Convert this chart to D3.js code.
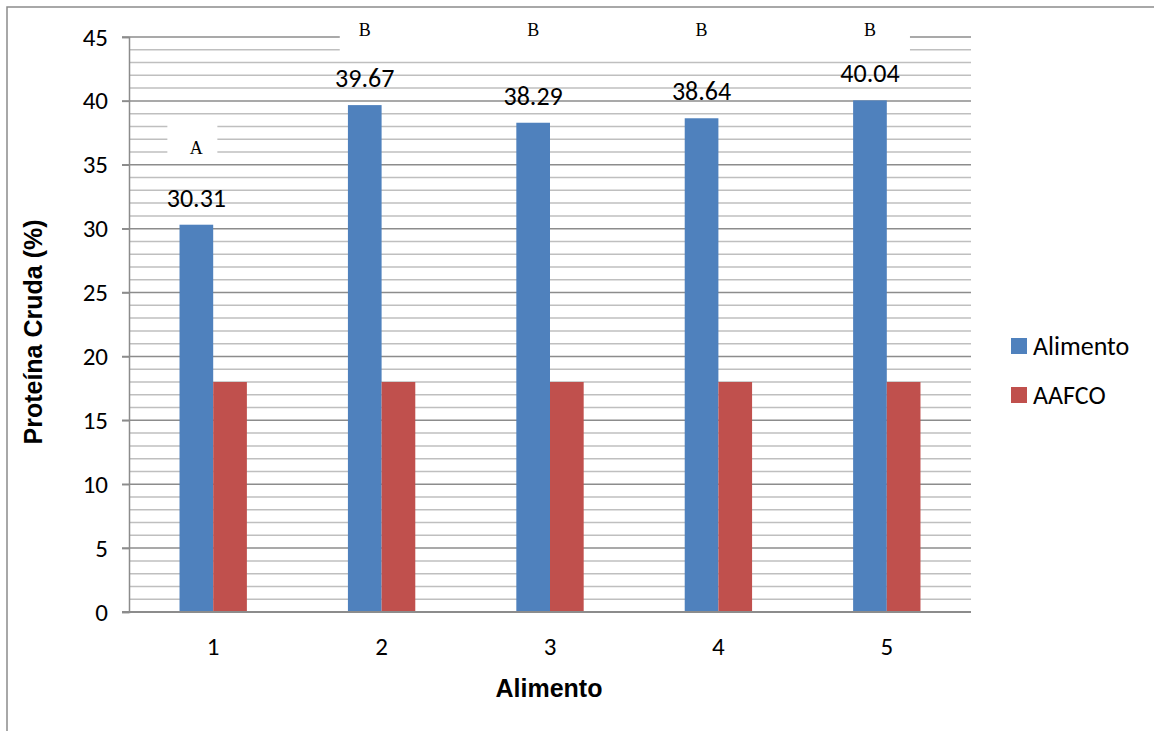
<!DOCTYPE html>
<html><head><meta charset="utf-8">
<script src="https://cdn.jsdelivr.net/npm/d3@7"></script>
<style>body{margin:0;background:#fff;} svg{display:block;}</style>
</head><body>
<svg id="c" width="1154" height="731"></svg>
<script>
const categories = ["1","2","3","4","5"];
const alimento = [30.31, 39.67, 38.29, 38.64, 40.04];
const aafco = [18, 18, 18, 18, 18];
const letters = ["A","B","B","B","B"];
const seriesNames = ["Alimento","AAFCO"];
const yTicks = [0,5,10,15,20,25,30,35,40,45];
const colors = ["#4F81BD","#C0504D"];

const svg = d3.select("#c");
const L=129, R=971, T=37, B=612;
const x = d3.scaleBand().domain(categories).range([L,R]).paddingInner(0).paddingOuter(0);
const y = d3.scaleLinear().domain([0,45]).range([B,T]);
const bw = x.bandwidth()/2.5/2;
const numFont = "Carlito, Lato, 'Liberation Sans', sans-serif";

// frame
svg.append("path").attr("d",`M7,731V7H1154`).attr("fill","none").attr("stroke","#8c8c8c").attr("stroke-width",1.5);

// minor gridlines
const minor = d3.range(1,46).filter(v=>v%5!==0);
svg.append("g").selectAll("line").data(minor).join("line")
  .attr("x1",L).attr("x2",R).attr("y1",d=>y(d)).attr("y2",d=>y(d))
  .attr("stroke","#bfbfbf").attr("stroke-width",1.5);
// major gridlines
svg.append("g").selectAll("line").data(yTicks.filter(v=>v>0)).join("line")
  .attr("x1",L-7).attr("x2",R).attr("y1",d=>y(d)).attr("y2",d=>y(d))
  .attr("stroke","#8c8c8c").attr("stroke-width",1.5);

// y axis
const yAxis = d3.axisLeft(y).tickValues(yTicks).tickSize(7).tickPadding(14);
const yg = svg.append("g").attr("transform",`translate(${L},0)`).call(yAxis);
yg.select(".domain").attr("stroke","#8c8c8c").attr("stroke-width",1.5);
yg.selectAll(".tick line").attr("stroke","#8c8c8c").attr("stroke-width",1.5);
yg.selectAll("text").attr("font-family",numFont).attr("font-size",25).attr("fill","#000");

// bars
const cx = (c,i) => x(c) + x.bandwidth()/2 + (i===0 ? -bw : 0);
svg.append("g").selectAll("rect").data(categories).join("rect")
  .attr("x",(c)=>cx(c,0)).attr("width",bw)
  .attr("y",(c,i)=>y(alimento[i])).attr("height",(c,i)=>y(0)-y(alimento[i]))
  .attr("fill",colors[0]);
svg.append("g").selectAll("rect").data(categories).join("rect")
  .attr("x",(c)=>cx(c,1)).attr("width",bw)
  .attr("y",(c,i)=>y(aafco[i])).attr("height",(c,i)=>y(0)-y(aafco[i]))
  .attr("fill",colors[1]);

// x axis
const xAxis = d3.axisBottom(x).tickSize(0).tickPadding(25);
const xg = svg.append("g").attr("transform",`translate(0,${B})`).call(xAxis);
xg.select(".domain").remove();
svg.append("line").attr("x1",L-7).attr("x2",R).attr("y1",B).attr("y2",B).attr("stroke","#8c8c8c").attr("stroke-width",2);
xg.selectAll("text").attr("font-family",numFont).attr("font-size",25).attr("fill","#000");

// value labels
svg.append("g").selectAll("text").data(categories).join("text")
  .attr("x",c=>cx(c,0)+bw/2).attr("y",(c,i)=>y(alimento[i])-18)
  .attr("text-anchor","middle").attr("font-family",numFont).attr("font-size",26)
  .text((c,i)=>alimento[i].toFixed(2));

// letter annotation boxes (white)
const bx = c => cx(c,0)+bw/2;
svg.append("rect").attr("x",bx("2")-25).attr("y",10).attr("width",bx("5")-bx("2")+65).attr("height",47).attr("fill","#fff");
svg.append("rect").attr("x",bx("1")-29).attr("y",y(36.3)-25).attr("width",50).attr("height",40).attr("fill","#fff");
svg.append("g").selectAll("text").data(categories).join("text")
  .attr("x",c=>bx(c))
  .attr("y",(c,i)=>letters[i]==="A" ? y(36.3)+6 : 36)
  .attr("text-anchor","middle").attr("font-family","'Liberation Serif', 'DejaVu Serif', serif").attr("font-size",18)
  .text((c,i)=>letters[i]);

// axis titles
svg.append("text").attr("transform","translate(42,332) rotate(-90)").attr("text-anchor","middle")
  .attr("font-family","'Liberation Sans', Arial, sans-serif").attr("font-weight","bold").attr("font-size",25)
  .text("Proteína Cruda (%)");
svg.append("text").attr("x",549).attr("y",697).attr("text-anchor","middle")
  .attr("font-family","'Liberation Sans', Arial, sans-serif").attr("font-weight","bold").attr("font-size",25)
  .text("Alimento");

// legend
const lg = svg.append("g").selectAll("g").data(seriesNames).join("g")
  .attr("transform",(d,i)=>`translate(1011,${338+i*49})`);
lg.append("rect").attr("width",16).attr("height",16).attr("fill",(d,i)=>colors[i]);
lg.append("text").attr("x",22).attr("y",17).attr("font-family",numFont).attr("font-size",26).text(d=>d);
</script>
</body></html>
